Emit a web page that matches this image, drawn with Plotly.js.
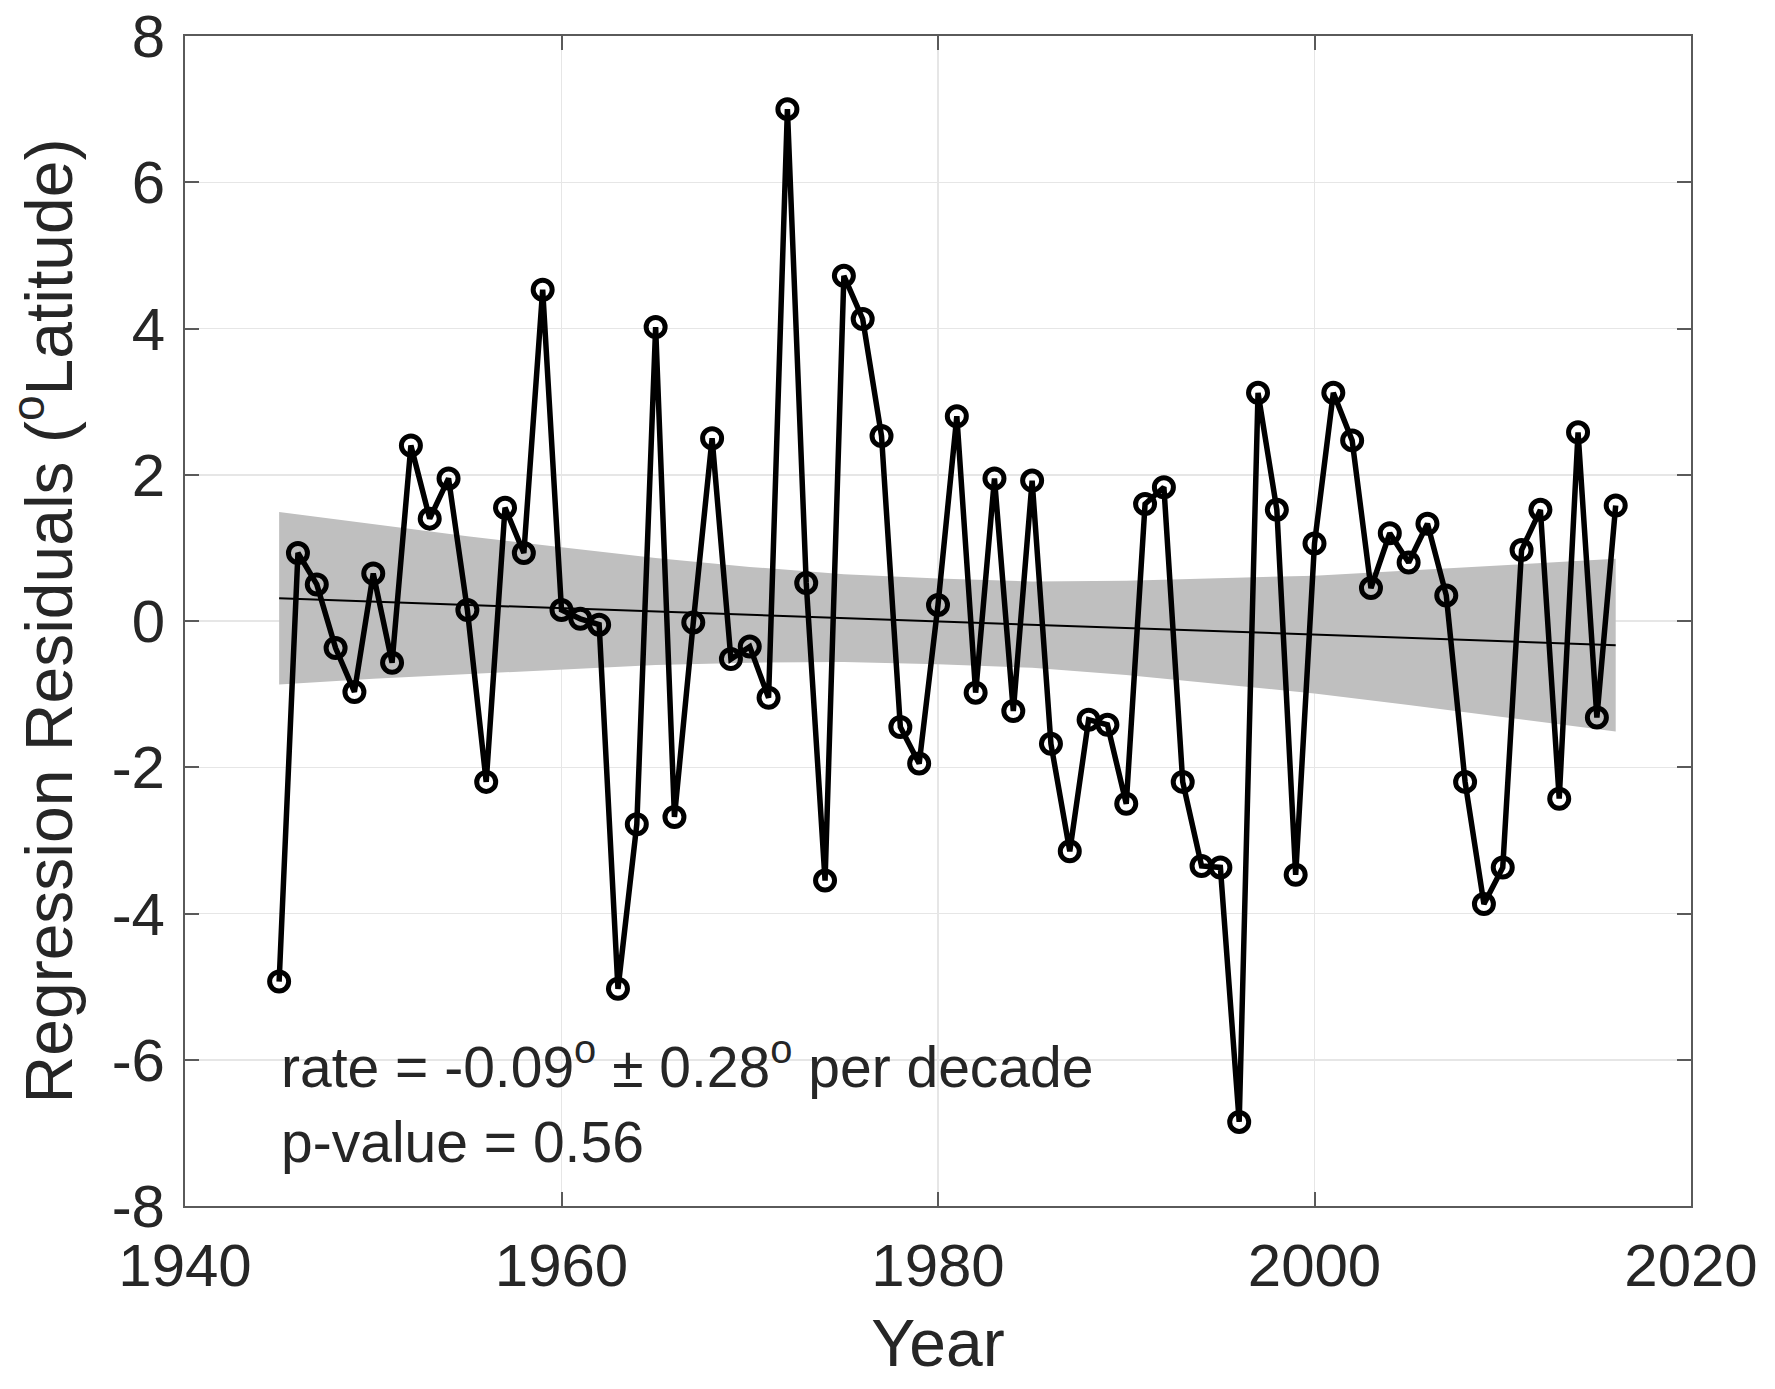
<!DOCTYPE html>
<html>
<head>
<meta charset="utf-8">
<script src="https://cdn.plot.ly/plotly-3.0.1.min.js"></script>
<style>html,body{margin:0;padding:0;background:#fff;}#chart{width:1775px;height:1389px;}</style>
</head>
<body>
<div id="chart"></div>
<script>
// Residual series
const years = [1945,1946,1947,1948,1949,1950,1951,1952,1953,1954,1955,1956,1957,1958,1959,1960,1961,1962,1963,1964,1965,1966,1967,1968,1969,1970,1971,1972,1973,1974,1975,1976,1977,1978,1979,1980,1981,1982,1983,1984,1985,1986,1987,1988,1989,1990,1991,1992,1993,1994,1995,1996,1997,1998,1999,2000,2001,2002,2003,2004,2005,2006,2007,2008,2009,2010,2011,2012,2013,2014,2015,2016];
const residuals = [-4.93,0.93,0.50,-0.37,-0.97,0.65,-0.57,2.40,1.40,1.95,0.15,-2.20,1.55,0.93,4.53,0.15,0.03,-0.05,-5.03,-2.78,4.02,-2.68,-0.02,2.50,-0.52,-0.35,-1.05,7.00,0.52,-3.55,4.72,4.13,2.53,-1.45,-1.95,0.22,2.80,-0.98,1.95,-1.23,1.92,-1.68,-3.15,-1.35,-1.42,-2.50,1.60,1.83,-2.20,-3.35,-3.37,-6.85,3.12,1.52,-3.47,1.06,3.12,2.47,0.45,1.20,0.80,1.33,0.35,-2.20,-3.87,-3.37,0.97,1.52,-2.43,2.58,-1.32,1.58];

// Linear trend line endpoints
const trendYears = [1945, 2016];
const trendValues = [0.31, -0.33];

// Confidence band edges
const bandYears = [1945,1950,1955,1960,1965,1970,1975,1980,1985,1990,1995,2000,2005,2010,2016];
const bandUpper = [1.49,1.32,1.16,1.01,0.86,0.74,0.64,0.58,0.54,0.55,0.58,0.62,0.69,0.76,0.85];
const bandLower = [-0.87,-0.79,-0.72,-0.66,-0.60,-0.57,-0.56,-0.59,-0.64,-0.74,-0.86,-0.99,-1.15,-1.31,-1.51];

// Axis ticks
const xTicks = [1940,1960,1980,2000,2020];
const yTicks = [-8,-6,-4,-2,0,2,4,6,8];

const bandX = bandYears.concat(bandYears.slice().reverse());
const bandY = bandUpper.concat(bandLower.slice().reverse());

const FONT = '"Liberation Sans", Arial, Helvetica, sans-serif';
const TXT = '#262626';

const traces = [
  {x: bandX, y: bandY, type: 'scatter', mode: 'lines', fill: 'toself',
   fillcolor: '#bfbfbf', line: {width: 0, color: '#bfbfbf'}, hoverinfo: 'skip', showlegend: false},
  {x: trendYears, y: trendValues, type: 'scatter', mode: 'lines',
   line: {color: '#000', width: 2}, showlegend: false},
  {x: years, y: residuals, type: 'scatter', mode: 'lines+markers',
   line: {color: '#000', width: 5.5},
   marker: {symbol: 'circle-open', size: 19, color: '#000', line: {width: 5, color: '#000'}},
   showlegend: false}
];

const axisCommon = {
  showgrid: true, gridcolor: '#e6e6e6', gridwidth: 1.5,
  zeroline: false, showline: true, linecolor: '#5a5a5a', linewidth: 2,
  mirror: 'ticks', ticks: 'inside', ticklen: 14, tickwidth: 2, tickcolor: '#5a5a5a',
  tickfont: {family: FONT, size: 60, color: TXT}
};

const layout = {
  width: 1775, height: 1389,
  margin: {l: 185, r: 84, t: 36, b: 183},
  paper_bgcolor: '#fff', plot_bgcolor: '#fff',
  font: {family: FONT, color: TXT},
  xaxis: Object.assign({}, axisCommon, {
    range: [1940, 2020], tickvals: xTicks, ticktext: xTicks.map(String),
    ticklabelstandoff: 6,
    title: {text: 'Year', font: {family: FONT, size: 66, color: TXT}, standoff: 22}
  }),
  yaxis: Object.assign({}, axisCommon, {
    range: [-8, 8], tickvals: yTicks, ticktext: yTicks.map(String),
    ticklabelstandoff: 6,
    title: {text: 'Regression Residuals (<sup>o</sup>Latitude)', font: {family: FONT, size: 66, color: TXT}, standoff: 18}
  }),
  annotations: [
    {x: 1945, y: -6.05, xref: 'x', yref: 'y', xanchor: 'left', yanchor: 'middle', showarrow: false,
     text: 'rate = -0.09<sup>o</sup> ± 0.28<sup>o</sup> per decade', font: {family: FONT, size: 57, color: TXT}},
    {x: 1945, y: -7.13, xref: 'x', yref: 'y', xanchor: 'left', yanchor: 'middle', showarrow: false,
     text: 'p-value = 0.56', font: {family: FONT, size: 57, color: TXT}}
  ]
};

Plotly.newPlot('chart', traces, layout, {displayModeBar: false, staticPlot: true});
</script>
</body>
</html>
